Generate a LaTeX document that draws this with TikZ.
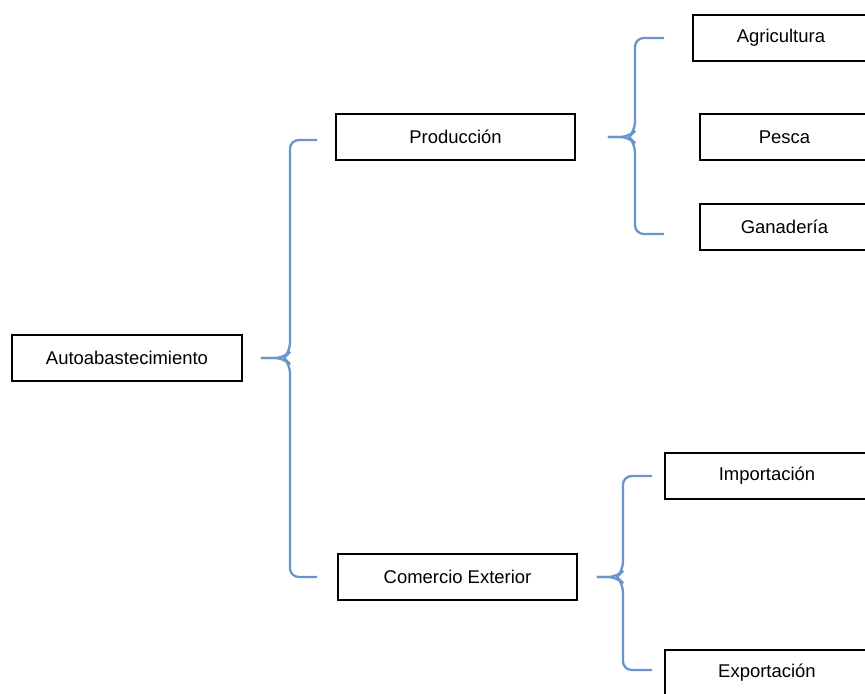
\documentclass[tikz,border=0pt]{standalone}
\usepackage{fontspec}
\setmainfont{Liberation Sans}
\usetikzlibrary{calc}
\definecolor{bracecol}{RGB}{106,148,204}

\begin{document}
\begin{tikzpicture}[x=0.02cm, y=-0.02cm,
	box/.style={draw, line width=1.1pt, minimum height=0.92cm, inner sep=0pt, font=\fontsize{10.5}{12}\selectfont},
	leaf/.style={box, anchor=west},
	brace/.style={draw=bracecol, line width=1.3pt, rounded corners=5pt}]
	%\draw[help lines] (0,0) grid[step=50] (865,693);
	\useasboundingbox (0,0) rectangle (865,693);
	\clip (0,0) rectangle (865,693);
	% boxes
	\node[box, minimum width=4.6cm] (auto) at (127,358) {Autoabastecimiento};
	\node[box, minimum width=4.78cm] (prod) at (455.5,137) {Producción};
	\node[box, minimum width=4.78cm] (com) at (457.5,577) {Comercio Exterior};
	\node[leaf, minimum width=3.52cm] (agri) at (692,38) {Agricultura};
	\node[leaf, minimum width=3.38cm] (pesca) at (699,137) {Pesca};
	\node[leaf, minimum width=3.38cm] (gan) at (699,227) {Ganadería};
	\node[leaf, minimum width=4.08cm] (imp) at (664,476) {Importación};
	\node[leaf, minimum width=4.08cm] (exp) at (664,673) {Exportación};
	% braces
	\coordinate (t1) at ($(auto.east)+(18,0)$);
	\coordinate (t2) at ($(prod.east)+(32,0)$);
	\coordinate (t3) at ($(com.east)+(19,0)$);
	\draw[brace] ($(prod.west)+(-18,3)$) -| ($(t1)+(29,-6)$) -- ($(t1)+(23,0)$) -- (t1);
	\draw[brace] ($(com.west)+(-20,0)$) -| ($(t1)+(29,6)$) -- ($(t1)+(23,0)$) -- (t1);
	\draw[brace] ($(agri.west)+(-28,0)$) -| ($(t2)+(27,-6)$) -- ($(t2)+(21,0)$) -- (t2);
	\draw[brace] ($(gan.west)+(-35,7)$) -| ($(t2)+(27,6)$) -- ($(t2)+(21,0)$) -- (t2);
	\draw[brace] ($(imp.west)+(-12,0)$) -| ($(t3)+(26,-6)$) -- ($(t3)+(20,0)$) -- (t3);
	\draw[brace] ($(exp.west)+(-12,-3)$) -| ($(t3)+(26,6)$) -- ($(t3)+(20,0)$) -- (t3);
\end{tikzpicture}
\end{document}
